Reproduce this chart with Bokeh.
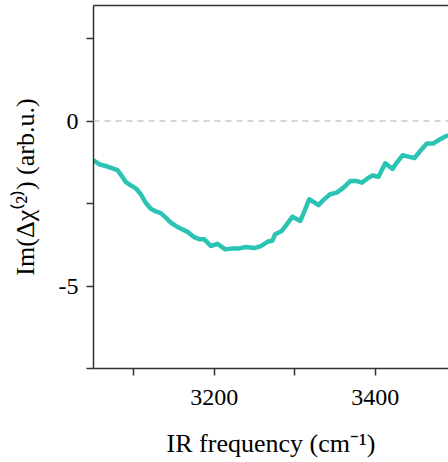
from bokeh.plotting import figure
from bokeh.models import Range1d, FixedTicker, LinearAxis, Span
from bokeh.embed import file_html
from bokeh.resources import INLINE

freq = [3050.9, 3057.1, 3067.4, 3079.8, 3085.2, 3090.1, 3096.3, 3102.5, 3108.8, 3115.0,
        3121.2, 3127.4, 3133.6, 3139.8, 3146.0, 3154.3, 3166.8, 3175.1, 3181.3, 3187.5,
        3195.7, 3204.0, 3213.6, 3222.7, 3231.0, 3239.2, 3249.6, 3257.8, 3266.1, 3272.4,
        3275.7, 3283.9, 3290.1, 3297.2, 3306.8, 3312.1, 3317.9, 3323.3, 3329.5, 3335.7,
        3344.0, 3352.2, 3360.6, 3368.9, 3377.1, 3383.3, 3391.6, 3396.6, 3404.0, 3412.4,
        3421.4, 3426.8, 3433.9, 3441.3, 3448.8, 3455.8, 3464.0, 3472.4, 3480.7, 3488.9]
im_chi = [-1.21, -1.31, -1.38, -1.49, -1.67, -1.85, -1.95, -2.04, -2.22, -2.48,
          -2.66, -2.74, -2.79, -2.93, -3.08, -3.21, -3.36, -3.52, -3.58, -3.58,
          -3.79, -3.72, -3.89, -3.86, -3.86, -3.82, -3.85, -3.79, -3.66, -3.62,
          -3.43, -3.33, -3.13, -2.90, -3.03, -2.73, -2.37, -2.45, -2.55, -2.39,
          -2.22, -2.17, -2.02, -1.82, -1.82, -1.87, -1.72, -1.65, -1.69, -1.28,
          -1.45, -1.26, -1.04, -1.08, -1.12, -0.91, -0.68, -0.68, -0.55, -0.45]
x_ticks = [3100, 3200, 3300, 3400]
x_tick_labels = {3100: "", 3200: "3200", 3300: "", 3400: "3400"}
y_ticks = [-7.5, -5, -2.5, 0, 2.5]
y_tick_labels = {-7.5: "", -5: "-5", -2.5: "", 0: "0", 2.5: ""}
y_label = "Im(\u0394\u03c7\u207d\u00b2\u207e) (arb.u.)"
x_label = "IR frequency (cm\u207b\u00b9)"

FONT = "Liberation Serif"
AX = "#333333"

p = figure(width=448, height=462, output_backend="svg", toolbar_location=None,
           x_range=Range1d(3050, 3491), y_range=Range1d(-7.5, 3.5),
           min_border_left=93, min_border_right=0, min_border_top=5,
           min_border_bottom=94)
p.outline_line_color = None
p.grid.visible = False
p.background_fill_color = "white"
p.border_fill_color = "white"

for ax in (p.xaxis[0], p.yaxis[0]):
    ax.axis_line_color = AX
    ax.axis_line_width = 1.5
    ax.major_tick_line_color = AX
    ax.major_tick_line_width = 1.5
    ax.major_tick_out = 7
    ax.major_tick_in = 0
    ax.minor_tick_line_color = None
    ax.major_label_text_font = FONT
    ax.major_label_text_font_size = "24px"
    ax.major_label_text_color = "black"
    ax.axis_label_text_font = FONT
    ax.axis_label_text_font_size = "26px"
    ax.axis_label_text_font_style = "normal"
    ax.axis_label_text_color = "black"

p.xaxis[0].ticker = FixedTicker(ticks=x_ticks)
p.xaxis[0].major_label_overrides = x_tick_labels
p.xaxis[0].major_label_standoff = 14
p.xaxis[0].axis_label = x_label
p.xaxis[0].axis_label_standoff = 21

p.yaxis[0].ticker = FixedTicker(ticks=y_ticks)
p.yaxis[0].major_label_overrides = y_tick_labels
p.yaxis[0].major_label_standoff = 8
p.yaxis[0].axis_label = y_label
p.yaxis[0].axis_label_standoff = 16

top = LinearAxis(ticker=FixedTicker(ticks=[]), major_label_text_font_size="0px",
                 axis_line_color=AX, axis_line_width=1.5, major_tick_line_color=None,
                 minor_tick_line_color=None)
p.add_layout(top, "above")

p.add_layout(Span(location=0, dimension="width", line_color="#c8c8c8",
                  line_dash="6 5", line_width=1.5))

p.line(freq, im_chi, line_color="#2bc4b4", line_width=4.5, line_join="round", line_cap="round")

open("out.html", "w").write(file_html(p, INLINE))
